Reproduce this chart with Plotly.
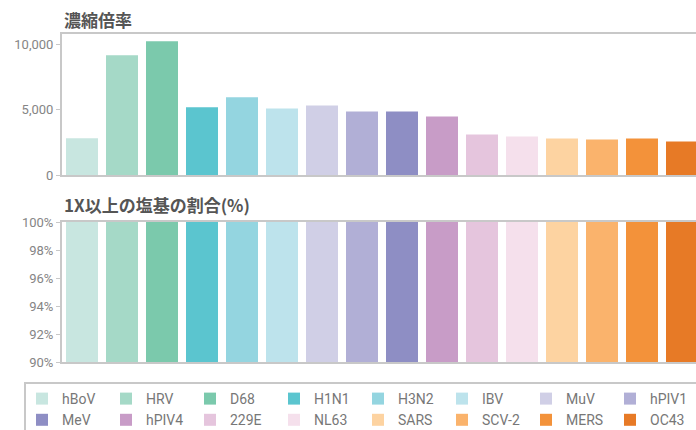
import plotly.graph_objects as go

categories = ["hBoV", "HRV", "D68", "H1N1", "H3N2", "IBV", "MuV", "hPIV1",
              "MeV", "hPIV4", "229E", "NL63", "SARS", "SCV-2", "MERS", "OC43"]
enrichment = [2810, 9180, 10250, 5180, 5950, 5100, 5330, 4870,
              4870, 4480, 3100, 2950, 2790, 2710, 2790, 2560]
coverage_1x = [100, 100, 100, 100, 100, 100, 100, 100,
               100, 100, 100, 100, 100, 100, 100, 100]
colors = ["#c8e6e0", "#a5d9c7", "#7bc9ac", "#5bc5cf", "#94d5e0", "#bde3ec",
          "#d0cfe6", "#b1afd6", "#8e8ec4", "#c89cc7", "#e5c5dd", "#f5e0ec",
          "#fdd3a1", "#fab36c", "#f3923a", "#e77a26"]

top_title = "濃縮倍率"
bottom_title = "1X以上の塩基の割合(%)"

W, H = 696, 430
ML, MR, MT = 62, 0, 34
MB = H - 362
PH = H - MT - MB
PW = W - ML - MR


def py(pix):
    return (H - MB - pix) / PH


def px(pix):
    return (pix - ML) / PW


fig = go.Figure()
for i, name in enumerate(categories):
    fig.add_trace(go.Bar(x=[name], y=[enrichment[i]], name=name,
                         marker=dict(color=colors[i], line=dict(width=0)),
                         xaxis="x", yaxis="y", legendgroup=name, showlegend=True))
for i, name in enumerate(categories):
    fig.add_trace(go.Bar(x=[name], y=[coverage_1x[i]], name=name,
                         marker=dict(color=colors[i], line=dict(width=0)),
                         xaxis="x2", yaxis="y2", legendgroup=name, showlegend=False))

line_col = "#c8c8c8"
tick_font = dict(family="Roboto, sans-serif", size=13, color="#858585")
common_x = dict(type="category", categoryorder="array", categoryarray=categories,
                range=[-0.5, 15.35], showline=True, mirror=True, linecolor=line_col,
                linewidth=2, showticklabels=False, ticks="", showgrid=False, zeroline=False)
common_y = dict(showline=True, linecolor=line_col, linewidth=2, ticks="outside",
                ticklen=4, tickcolor=line_col, tickwidth=1, showgrid=False,
                zeroline=False, tickfont=tick_font)

fig.update_layout(
    width=W, height=H,
    margin=dict(l=ML, r=MR, t=MT, b=MB, autoexpand=False),
    paper_bgcolor="white", plot_bgcolor="white",
    barmode="overlay", bargap=0.2,
    font=dict(family="Roboto, 'Noto Sans CJK JP', sans-serif", color="#777777"),
    xaxis=dict(domain=[0, 1], anchor="y", **common_x),
    yaxis=dict(domain=[py(175), 1], anchor="x", range=[0, 10800], dtick=5000,
               tickformat=",", **common_y),
    xaxis2=dict(domain=[0, 1], anchor="y2", **common_x),
    yaxis2=dict(domain=[0, py(222)], anchor="x2", range=[90, 100], dtick=2,
                ticksuffix="%", **common_y),
    showlegend=True,
    legend=dict(orientation="h", x=px(22), xanchor="left", y=py(383), yanchor="top",
                xref="paper", yref="paper",
                font=dict(family="Roboto, sans-serif", size=14, color="#777777"),
                bgcolor="rgba(0,0,0,0)", borderwidth=0, entrywidth=39,
                traceorder="normal", itemclick=False),
    shapes=[dict(type="rect", xref="paper", yref="paper",
                 x0=px(25), x1=1.05, y0=py(445), y1=py(383),
                 line=dict(color=line_col, width=2), fillcolor="rgba(0,0,0,0)")],
    annotations=[
        dict(text="<b>" + top_title + "</b>", xref="paper", yref="paper",
             x=px(62), y=py(20), xanchor="left", yanchor="middle", showarrow=False,
             font=dict(family="'Noto Sans CJK JP', sans-serif", size=17, color="#555555")),
        dict(text="<b>" + bottom_title + "</b>", xref="paper", yref="paper",
             x=px(62), y=py(204), xanchor="left", yanchor="middle", showarrow=False,
             font=dict(family="'Noto Sans CJK JP', sans-serif", size=17, color="#555555")),
    ],
)

fig.write_html("out.html",
               config={"displayModeBar": False},
               post_script="document.body.style.margin='0px';"
                           "document.body.style.overflow='hidden';")
